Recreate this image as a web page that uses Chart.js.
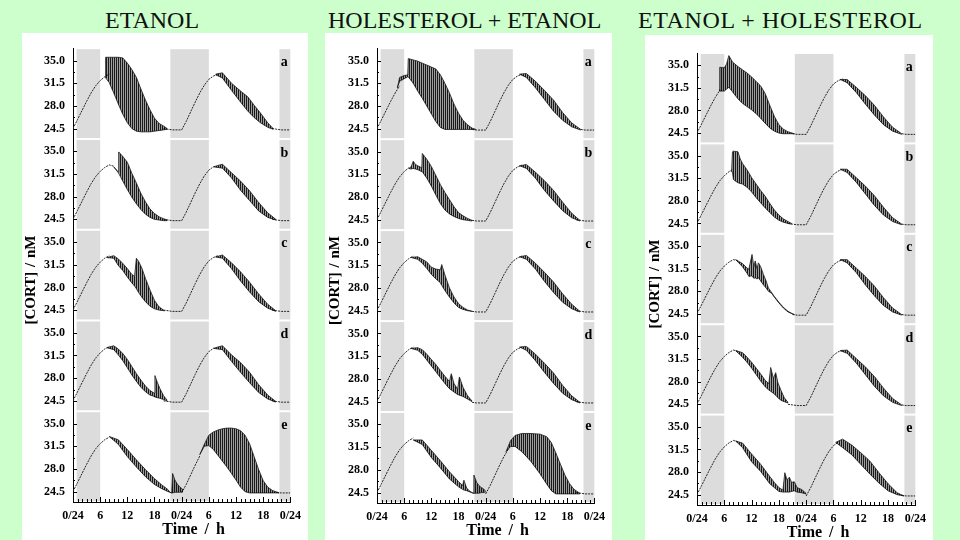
<!DOCTYPE html>
<html>
<head>
<meta charset="utf-8">
<script src="https://cdn.jsdelivr.net/npm/chart.js@4.4.1/dist/chart.umd.min.js"></script>
<style>
  body { margin: 0; width: 960px; height: 540px; background: #ccffcc; position: relative; overflow: hidden; font-family: "Liberation Serif", serif; }
  .title { position: absolute; top: 8px; font-size: 24px; line-height: 24px; white-space: nowrap; color: #111; }
  .panel { position: absolute; background: #fff; }
  canvas { display: block; }
</style>
</head>
<body>
<div class="title" style="left:105px">ETANOL</div>
<div class="title" style="left:328px">HOLESTEROL + ETANOL</div>
<div class="title" style="left:638px;letter-spacing:0.6px">ETANOL + HOLESTEROL</div>

<div class="panel" style="left:22px;top:33px;width:286px;height:507px"><canvas id="p1" width="286" height="507"></canvas></div>
<div class="panel" style="left:325px;top:33px;width:287px;height:507px"><canvas id="p2" width="287" height="507"></canvas></div>
<div class="panel" style="left:645px;top:35px;width:288px;height:505px"><canvas id="p3" width="288" height="505"></canvas></div>

<script>
// axis labels
const xTickLabels = ['0/24', '6', '12', '18', '0/24', '6', '12', '18', '0/24'];
const yTicks = [24.5, 28.0, 31.5, 35.0];
const letters = ['a', 'b', 'c', 'd', 'e'];
// dark phase (grey bands), hours
const darkStart = [0.8, 21.5, 45.6];
const darkEnd = [6, 30, 48];

// unperturbed circadian curve, one value per hour 0..48
const base = [24.5, 25.9, 27.3, 28.7, 30.0, 31.1, 31.9, 32.5, 32.9, 32.7, 32.1, 31.3, 30.3, 29.2, 28.1, 27.1, 26.2, 25.5, 25.0, 24.7, 24.5, 24.4, 24.3, 24.3, 24.3,
              25.6, 27.1, 28.6, 30.0, 31.2, 32.1, 32.6, 32.9, 32.8, 32.3, 31.5, 30.6, 29.6, 28.6, 27.6, 26.7, 25.9, 25.3, 24.8, 24.5, 24.4, 24.3, 24.3, 24.3];

// oscillating parts: time, upper envelope, lower envelope (null = break)
// ETANOL
const p1a_t  = [7.1, 7.2, 8, 9, 10, 11, 12, 13, 14, 15, 16, 17, 18, 19, 20, 20.8, 26, 31.5, 33, 35, 37, 38.6, 40, 41.4, 43, 44.2];
const p1a_hi = [32.4, 35.5, 35.5, 35.5, 35.5, 35.4, 34.6, 33.6, 32.4, 30.6, 28.9, 27.4, 26.1, 25.3, 24.9, 24.5, null, 32.9, 33.1, 31.5, 30.3, 29.4, 28.1, 26.9, 25.4, 24.5];
const p1a_lo = [32.4, 32.4, 31.6, 30.0, 28.3, 26.7, 25.4, 24.5, 24.1, 24.0, 24.0, 24.0, 24.1, 24.2, 24.3, 24.4, null, 32.8, 32.3, 30.4, 28.6, 27.2, 26.2, 25.4, 24.7, 24.4];

const p1b_t  = [9, 10, 10.1, 11, 12, 13, 14, 15, 16, 17, 18, 19, 20, 20.8, 26, 31, 33, 35, 37, 39, 41, 43, 44.8];
const p1b_hi = [32.6, 31.8, 34.9, 34.2, 33.3, 31.6, 30.1, 28.5, 27.2, 26.1, 25.4, 24.9, 24.6, 24.4, null, 32.6, 33.0, 31.7, 30.4, 28.9, 27.1, 25.5, 24.5];
const p1b_lo = [32.6, 31.7, 31.7, 30.4, 29.1, 27.9, 26.9, 26.0, 25.3, 24.8, 24.5, 24.4, 24.3, 24.3, null, 32.6, 32.4, 30.9, 29.0, 27.4, 25.8, 24.8, 24.4];

const p1c_t  = [7.5, 9, 10, 11, 12, 13, 13.6, 14, 14.5, 15.2, 16, 17, 18, 19, 20.2, 26, 31.5, 33, 35, 37, 39, 41, 43, 44.8];
const p1c_hi = [32.6, 32.9, 32.4, 31.7, 30.9, 30.0, 29.7, 32.5, 32.0, 31.0, 29.4, 27.6, 26.0, 25.0, 24.4, null, 32.7, 33.0, 31.8, 30.4, 28.8, 27.0, 25.4, 24.4];
const p1c_lo = [32.6, 32.5, 31.4, 30.6, 29.6, 28.7, 28.2, 27.8, 27.2, 26.5, 25.8, 25.1, 24.7, 24.5, 24.4, null, 32.7, 32.5, 30.9, 29.0, 27.3, 25.8, 24.8, 24.3];

const p1d_t  = [7.5, 9, 10, 11, 12, 13, 14, 15, 16, 17, 17.9, 18.1, 18.6, 19.2, 20, 20.8, 26, 31, 33, 35, 37, 39, 41, 43, 44.8];
const p1d_hi = [32.7, 33.0, 32.5, 31.8, 30.9, 29.8, 28.7, 27.7, 26.8, 26.1, 25.7, 28.4, 27.4, 26.4, 25.3, 24.6, null, 32.6, 33.0, 31.6, 30.4, 28.9, 27.0, 25.4, 24.4];
const p1d_lo = [32.7, 32.4, 31.6, 30.7, 29.6, 28.5, 27.5, 26.6, 25.9, 25.4, 25.2, 25.1, 25.0, 24.9, 24.7, 24.5, null, 32.6, 32.4, 30.6, 28.9, 27.3, 25.8, 24.8, 24.3];

const p1e_t  = [8, 10, 12, 14, 16, 18, 19.5, 21, 21.4, 21.8, 22, 22.5, 23, 23.5, 24.3, 26.5, 28, 29, 30, 31, 32, 33, 34, 35, 36, 37, 38, 39, 40, 41, 42, 43, 44, 45.5];
const p1e_hi = [33.0, 32.5, 31.0, 29.4, 27.9, 26.5, 25.6, 24.8, 24.4, 24.3, 27.3, 26.3, 25.7, 25.3, 24.8, null, 30.2, 31.8, 33.2, 33.7, 34.0, 34.2, 34.3, 34.3, 34.2, 33.9, 33.2, 31.9, 29.9, 27.9, 26.2, 25.2, 24.7, 24.3];
const p1e_lo = [33.0, 31.8, 29.9, 28.3, 26.8, 25.6, 25.0, 24.5, 24.4, 24.3, 24.3, 24.4, 24.4, 24.4, 24.5, null, 30.2, 31.5, 31.6, 31.0, 30.1, 29.2, 28.3, 27.3, 26.3, 25.2, 24.5, 24.3, 24.3, 24.3, 24.3, 24.3, 24.3, 24.3];

// HOLESTEROL + ETANOL
const p2a_t  = [4.5, 5, 6, 6.8, 6.9, 8, 9, 10, 11, 12, 13, 14, 15, 16, 17, 18, 19, 20, 21, 21.8, 26, 31.5, 33, 35, 37, 39, 41, 43, 45];
const p2a_hi = [30.8, 32.4, 32.7, 32.8, 35.3, 35.1, 34.9, 34.6, 34.3, 34.0, 33.7, 32.8, 31.5, 30.0, 28.3, 26.9, 25.8, 25.1, 24.6, 24.4, null, 32.9, 33.0, 31.8, 30.4, 28.9, 27.0, 25.4, 24.4];
const p2a_lo = [30.8, 31.8, 32.2, 32.5, 32.5, 31.5, 30.3, 29.2, 28.0, 26.8, 25.6, 24.7, 24.4, 24.4, 24.4, 24.4, 24.4, 24.4, 24.4, 24.4, null, 32.9, 32.4, 30.8, 29.0, 27.2, 25.8, 24.8, 24.3];

const p2b_t  = [7, 7.5, 8, 8.5, 9, 9.9, 10, 11, 12, 13, 14, 15, 16, 17, 18, 19, 20, 21, 26, 31.5, 33, 35, 37, 39, 41, 43, 44.8];
const p2b_hi = [32.4, 32.6, 33.5, 33.0, 32.8, 32.5, 34.7, 33.8, 32.7, 31.3, 29.9, 28.7, 27.6, 26.5, 25.6, 25.1, 24.7, 24.4, null, 32.8, 33.0, 31.8, 30.5, 29.0, 27.2, 25.5, 24.4];
const p2b_lo = [32.4, 32.3, 32.4, 32.3, 32.2, 31.9, 31.9, 30.9, 29.7, 28.3, 27.0, 26.0, 25.4, 25.0, 24.7, 24.5, 24.4, 24.3, null, 32.8, 32.4, 30.9, 29.0, 27.4, 25.9, 24.8, 24.3];

const p2c_t  = [7.5, 9, 10, 11, 12, 13, 14, 14.3, 15, 16, 17, 18, 19, 20, 21, 26, 31.5, 33, 35, 37, 39, 41, 43, 44.8];
const p2c_hi = [32.7, 32.8, 32.4, 32.0, 31.2, 30.9, 30.8, 31.6, 30.0, 28.0, 26.6, 25.6, 25.0, 24.6, 24.4, null, 32.8, 33.0, 31.8, 30.4, 28.9, 27.1, 25.5, 24.4];
const p2c_lo = [32.7, 32.4, 31.8, 31.0, 30.1, 29.4, 28.8, 28.4, 27.6, 26.6, 25.7, 25.0, 24.7, 24.5, 24.4, null, 32.8, 32.4, 30.9, 29.0, 27.3, 25.8, 24.8, 24.3];

const p2d_t  = [7.5, 9, 10, 11, 12, 13, 14, 15, 16, 16.4, 17, 17.8, 18.2, 19, 20, 21, 26, 31.5, 33, 35, 37, 39, 41, 43, 44.8];
const p2d_hi = [32.7, 32.8, 32.5, 31.8, 31.0, 30.2, 29.3, 28.4, 27.6, 28.8, 27.3, 26.4, 28.3, 26.7, 25.4, 24.6, null, 32.9, 33.0, 31.8, 30.4, 28.9, 27.0, 25.4, 24.4];
const p2d_lo = [32.7, 32.4, 31.8, 30.9, 30.0, 29.1, 28.2, 27.3, 26.5, 26.3, 26.0, 25.6, 25.5, 25.3, 24.9, 24.5, null, 32.9, 32.4, 30.8, 29.0, 27.3, 25.8, 24.8, 24.3];

const p2e_t  = [8, 10, 12, 14, 16, 18, 18.9, 19.2, 19.8, 20.5, 21.3, 21.4, 22, 22.5, 23, 23.5, 24, 26, 28.5, 29.5, 30.5, 32, 34, 36, 37.5, 38.5, 39.5, 40.5, 41.5, 42.5, 43.5, 44.8];
const p2e_hi = [32.6, 32.6, 31.0, 29.4, 27.7, 26.2, 25.6, 26.4, 25.2, 24.7, 24.4, 27.2, 26.1, 25.6, 25.3, 25.1, 24.7, null, 30.8, 32.5, 33.3, 33.6, 33.6, 33.5, 33.1, 32.2, 30.6, 28.9, 27.2, 25.9, 25.0, 24.4];
const p2e_lo = [32.6, 31.9, 29.9, 28.3, 26.6, 25.4, 25.0, 24.9, 24.8, 24.6, 24.4, 24.4, 24.4, 24.4, 24.5, 24.5, 24.6, null, 30.8, 31.6, 31.6, 30.8, 29.3, 27.4, 25.8, 24.8, 24.3, 24.3, 24.3, 24.3, 24.3, 24.3];

// ETANOL + HOLESTEROL
const p3a_t  = [4.9, 5.0, 6, 6.5, 7, 7.8, 9, 10, 11, 12, 13, 14, 15, 16, 17, 18, 19, 20, 21.4, 26, 31.5, 33, 35, 37, 39, 41, 43, 45];
const p3a_hi = [31.2, 34.7, 34.6, 35.2, 36.5, 35.5, 34.8, 34.3, 33.8, 33.2, 32.5, 31.8, 30.6, 28.8, 27.1, 25.8, 25.1, 24.7, 24.4, null, 32.8, 32.8, 31.6, 30.3, 28.8, 27.0, 25.4, 24.4];
const p3a_lo = [31.2, 31.0, 31.0, 31.3, 31.6, 30.9, 29.8, 29.1, 28.6, 28.1, 27.5, 26.8, 26.0, 25.3, 24.8, 24.5, 24.4, 24.4, 24.4, null, 32.8, 32.3, 30.8, 29.0, 27.3, 25.8, 24.8, 24.3];

const p3b_t  = [7.6, 7.8, 8, 9, 9.5, 10, 11, 12, 13, 14, 15, 16, 17, 18, 19, 20, 20.8, 26, 31.5, 33, 35, 37, 39, 41, 43, 45];
const p3b_hi = [32.5, 35.6, 35.7, 35.6, 34.5, 33.8, 32.8, 31.6, 30.6, 29.6, 28.7, 27.6, 26.6, 25.8, 25.2, 24.8, 24.5, null, 32.9, 32.9, 31.6, 30.3, 28.8, 27.0, 25.4, 24.4];
const p3b_lo = [32.5, 32.5, 31.3, 30.8, 30.7, 30.6, 30.1, 29.4, 28.5, 27.7, 26.9, 26.2, 25.5, 25.0, 24.7, 24.5, 24.4, null, 32.9, 32.4, 30.9, 29.1, 27.3, 25.8, 24.8, 24.3];

const p3c_t  = [8.5, 10, 11, 11.4, 12.1, 12.5, 12.8, 13.2, 13.5, 14, 14.6, 15.2, 15.7, 16.4, 17, 18, 19, 20, 21, 21.4, 26, 31.5, 33, 35, 37, 39, 41, 43, 45];
const p3c_hi = [32.9, 32.3, 31.6, 31.4, 33.7, 31.8, 32.7, 31.5, 32.4, 31.8, 30.6, 29.6, 28.5, 27.8, 27.2, 26.3, 25.5, 24.9, 24.5, 24.4, null, 32.9, 32.9, 31.6, 30.3, 28.8, 27.0, 25.4, 24.4];
const p3c_lo = [32.9, 31.8, 30.8, 30.3, 30.4, 30.0, 30.1, 29.9, 30.1, 29.6, 29.0, 28.5, 28.0, 27.7, 27.1, 26.2, 25.4, 24.8, 24.5, 24.4, null, 32.9, 32.4, 30.9, 29.0, 27.3, 25.8, 24.8, 24.3];

const p3d_t  = [8.5, 10, 11, 12, 13, 14, 15, 15.8, 16.2, 16.8, 17.3, 17.8, 18.5, 19.2, 20, 26, 31.5, 33, 35, 37, 39, 41, 43, 45];
const p3d_hi = [32.8, 32.5, 31.8, 31.0, 30.1, 29.2, 28.2, 27.7, 30.2, 28.5, 29.4, 27.8, 26.6, 25.5, 24.8, null, 32.8, 32.9, 31.6, 30.3, 28.8, 27.0, 25.4, 24.4];
const p3d_lo = [32.8, 31.8, 31.0, 30.1, 29.1, 28.1, 27.2, 26.7, 26.5, 26.2, 25.9, 25.5, 25.1, 24.9, 24.7, null, 32.8, 32.4, 30.9, 29.1, 27.3, 25.8, 24.8, 24.3];

const p3e_t  = [8.5, 10, 12, 14, 16, 17, 18, 18.9, 19.3, 19.8, 20.3, 20.8, 21.4, 22, 23, 24, 27, 30.5, 32, 34, 36, 38, 40, 42, 44, 45.5];
const p3e_hi = [32.8, 32.5, 30.8, 29.2, 27.3, 26.4, 25.6, 25.2, 27.9, 26.8, 27.2, 26.4, 26.5, 25.6, 25.3, 24.7, null, 32.6, 33.1, 32.2, 31.0, 29.7, 27.9, 26.2, 24.8, 24.3];
const p3e_lo = [32.8, 31.8, 29.6, 28.1, 26.2, 25.6, 25.0, 24.9, 24.9, 24.9, 24.9, 25.0, 25.1, 24.9, 24.8, 24.6, null, 32.6, 31.8, 30.7, 29.2, 27.7, 26.3, 25.1, 24.5, 24.3];

const panels = [
  { id: 'p1', yWidth: 51, padTop: 14, padRight: 11, xHeight: 38,
    bands: [[p1a_t, p1a_hi, p1a_lo], [p1b_t, p1b_hi, p1b_lo], [p1c_t, p1c_hi, p1c_lo], [p1d_t, p1d_hi, p1d_lo], [p1e_t, p1e_hi, p1e_lo]] },
  { id: 'p2', yWidth: 52, padTop: 14, padRight: 12, xHeight: 37,
    bands: [[p2a_t, p2a_hi, p2a_lo], [p2b_t, p2b_hi, p2b_lo], [p2c_t, p2c_hi, p2c_lo], [p2d_t, p2d_hi, p2d_lo], [p2e_t, p2e_hi, p2e_lo]] },
  { id: 'p3', yWidth: 52, padTop: 18, padRight: 13, xHeight: 35,
    bands: [[p3a_t, p3a_hi, p3a_lo], [p3b_t, p3b_hi, p3b_lo], [p3c_t, p3c_hi, p3c_lo], [p3d_t, p3d_hi, p3d_lo], [p3e_t, p3e_hi, p3e_lo]] }
];

Chart.defaults.font.family = '"Liberation Serif", "Times New Roman", serif';
Chart.defaults.color = '#000';

// runs of the oscillating parts, used to hide the smooth line under them
function runsOf(t, hi) {
  const runs = [];
  let cur = null;
  t.forEach((x, i) => {
    if (hi[i] === null) { cur = null; return; }
    if (!cur) { cur = [x, x]; runs.push(cur); }
    cur[1] = x;
  });
  return runs;
}

const decor = {
  id: 'decor',
  beforeDatasetsDraw(chart) {
    const ctx = chart.ctx, x = chart.scales.x;
    ctx.save();
    ctx.fillStyle = '#dcdcdc';
    letters.forEach(L => {
      const s = chart.scales['y' + L];
      darkStart.forEach((a, i) => {
        const x0 = x.getPixelForValue(a), x1 = x.getPixelForValue(darkEnd[i]);
        ctx.fillRect(x0, s.top + 1, x1 - x0, s.bottom - s.top - 2);
      });
    });
    ctx.restore();
  },
  afterDraw(chart) {
    const ctx = chart.ctx, x = chart.scales.x, area = chart.chartArea;
    ctx.save();
    ctx.strokeStyle = '#000';
    ctx.lineWidth = 1;
    ctx.beginPath();
    letters.forEach(L => {
      const s = chart.scales['y' + L];
      yTicks.forEach((v, i) => {
        let py = Math.round(s.getPixelForValue(v)) + 0.5;
        ctx.moveTo(area.left, py); ctx.lineTo(area.left + 4, py);
        if (i < yTicks.length - 1) {
          py = Math.round(s.getPixelForValue((v + yTicks[i + 1]) / 2)) + 0.5;
          ctx.moveTo(area.left, py); ctx.lineTo(area.left + 2, py);
        }
      });
    });
    for (let h = 0; h <= 48; h++) {
      const px = Math.round(x.getPixelForValue(h)) + 0.5;
      ctx.moveTo(px, area.bottom); ctx.lineTo(px, area.bottom - (h % 6 === 0 ? 5 : 3));
    }
    ctx.stroke();

    ctx.fillStyle = '#000';
    ctx.textAlign = 'center';
    ctx.textBaseline = 'middle';
    ctx.font = 'bold 14px "Liberation Serif"';
    letters.forEach(L => {
      const s = chart.scales['y' + L];
      ctx.fillText(L, area.right - 6, s.top + 14);
    });

    ctx.font = 'bold 16px "Liberation Serif"';
    if ('wordSpacing' in ctx) ctx.wordSpacing = '3px';
    ctx.fillText('Time / h', (area.left + area.right) / 2 + 12, area.bottom + 28);

    ctx.font = 'bold 15px "Liberation Serif"';
    if ('wordSpacing' in ctx) ctx.wordSpacing = '1px';
    ctx.translate(area.left - 42, (area.top + area.bottom) / 2 + 5);
    ctx.rotate(-Math.PI / 2);
    ctx.fillText('[CORT] / nM', 0, 0);
    ctx.restore();
  }
};

function makeChart(cfg) {
  const canvas = document.getElementById(cfg.id);
  const c2 = canvas.getContext('2d');
  const pc = document.createElement('canvas');
  pc.width = 2; pc.height = 1;
  const pctx = pc.getContext('2d');
  pctx.fillStyle = 'rgba(0,0,0,0.9)'; pctx.fillRect(0, 0, 1, 1);
  pctx.fillStyle = 'rgba(0,0,0,0.38)'; pctx.fillRect(1, 0, 1, 1);
  const stripes = c2.createPattern(pc, 'repeat');

  const scales = {
    x: {
      type: 'linear', min: 0, max: 48,
      grid: { display: false, drawTicks: false },
      border: { color: '#000', width: 1 },
      ticks: { stepSize: 6, autoSkip: false, maxRotation: 0, padding: 7,
               font: { size: 12, weight: 'bold' },
               callback: v => xTickLabels[Math.round(v / 6)] },
      afterFit: s => { s.height = cfg.xHeight; }
    }
  };
  const datasets = [];
  letters.forEach((L, k) => {
    const id = 'y' + L;
    scales[id] = {
      type: 'linear', position: 'left', stack: 'cort', stackWeight: 1, weight: 5 - k,
      min: 22.9, max: 36.9,
      grid: { display: false, drawTicks: false },
      border: { color: '#000', width: 1 },
      afterBuildTicks: s => { s.ticks = yTicks.map(v => ({ value: v })); },
      ticks: { autoSkip: false, padding: 8, font: { size: 12, weight: 'bold' }, callback: v => v.toFixed(1) },
      afterFit: s => { s.width = cfg.yWidth; }
    };
    const [t, hi, lo] = cfg.bands[k];
    const runs = runsOf(t, hi);
    datasets.push({
      data: t.map((x, i) => ({ x, y: hi[i] })), yAxisID: id,
      borderColor: '#1a1a1a', borderWidth: 0.8, pointRadius: 0,
      backgroundColor: stripes, fill: '+1', order: 1
    });
    datasets.push({
      data: t.map((x, i) => ({ x, y: lo[i] })), yAxisID: id,
      borderColor: '#1a1a1a', borderWidth: 0.8, pointRadius: 0, fill: false, order: 1
    });
    datasets.push({
      data: base.map((y, h) => ({ x: h, y })), yAxisID: id,
      borderColor: '#222', borderWidth: 1, borderDash: [2, 1], pointRadius: 0, fill: false, order: 2,
      segment: {
        borderColor: c => runs.some(r => c.p0.parsed.x >= r[0] && c.p1.parsed.x <= r[1]) ? 'rgba(0,0,0,0)' : '#222'
      }
    });
  });

  return new Chart(canvas, {
    type: 'line',
    data: { datasets },
    options: {
      responsive: false,
      animation: false,
      devicePixelRatio: 1,
      layout: { padding: { left: 0, top: cfg.padTop, right: cfg.padRight, bottom: 0 } },
      plugins: { legend: { display: false }, tooltip: { enabled: false } },
      scales
    },
    plugins: [decor]
  });
}

panels.forEach(makeChart);
</script>
</body>
</html>
